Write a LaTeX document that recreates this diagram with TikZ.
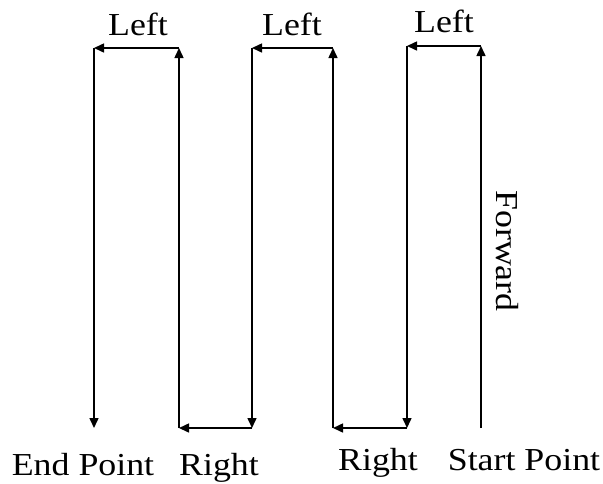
\documentclass[tikz,border=0pt]{standalone}
\usepackage{fontspec}
\setmainfont{Liberation Serif}[FakeStretch=1.12]
\usetikzlibrary{arrows.meta}
\begin{document}
\begin{tikzpicture}[x=1pt,y=-1pt,
  leg/.style={line width=1.5pt,-{Triangle[length=10pt,width=9pt]}},
  lbl/.style={font=\fontsize{32}{32}\selectfont,inner sep=0pt,anchor=base}]
\useasboundingbox (0,0) rectangle (603,483);
% corner points of the zigzag route
\coordinate (s0) at (481,428);
\coordinate (s1) at (481,46);
\coordinate (a1) at (407,46);
\coordinate (a2) at (407,428);
\coordinate (b2) at (333,428);
\coordinate (b1) at (333,48);
\coordinate (c1) at (252,48);
\coordinate (c2) at (252,428);
\coordinate (d2) at (179,428);
\coordinate (d1) at (179,48);
\coordinate (e1) at (94,48);
\coordinate (e2) at (94,428);
% legs of the route
\draw[leg] (s0) -- (s1);
\draw[leg] (s1) -- (a1);
\draw[leg] (a1) -- (a2);
\draw[leg] (a2) -- (b2);
\draw[leg] (b2) -- (b1);
\draw[leg] (b1) -- (c1);
\draw[leg] (c1) -- (c2);
\draw[leg] (c2) -- (d2);
\draw[leg] (d2) -- (d1);
\draw[leg] (d1) -- (e1);
\draw[leg] (e1) -- (e2);
% labels
\node[lbl] (l1) at (138,35) {Left};
\node[lbl] (l2) at (292,35) {Left};
\node[lbl] (l3) at (444,32) {Left};
\node[lbl] (endp) at (83,475) {End Point};
\node[lbl] (r1) at (219,475) {Right};
\node[lbl] (r2) at (378,470) {Right};
\node[lbl] (startp) at (524,470) {Start Point};
\node[font=\fontsize{32}{32}\selectfont,inner sep=0pt,rotate=-90] (fwd) at (507,251) {Forward};
\end{tikzpicture}
\end{document}
